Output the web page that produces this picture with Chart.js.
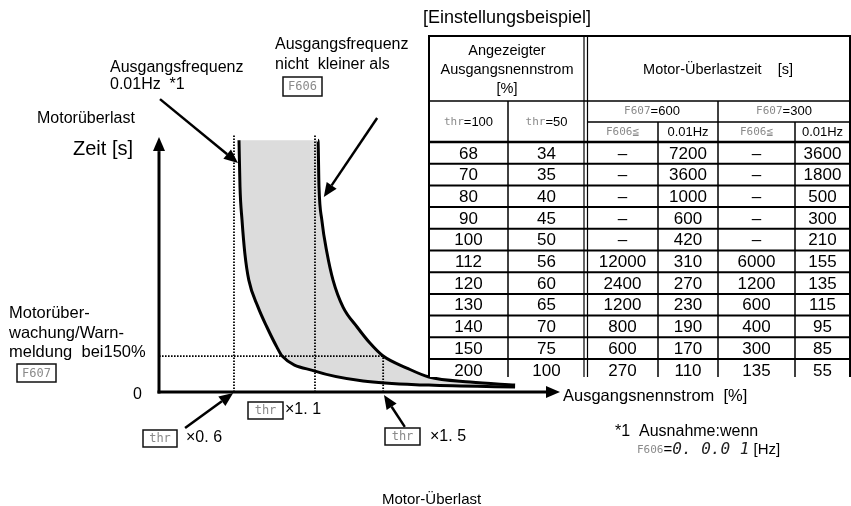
<!DOCTYPE html>
<html><head><meta charset="utf-8">
<script src="https://cdn.jsdelivr.net/npm/chart.js@4.4.1/dist/chart.umd.min.js"></script>
<style>html,body{margin:0;padding:0;background:#fff;overflow:hidden}canvas{display:block}</style>
</head><body>
<canvas id="c" width="851" height="506"></canvas>
<script>
// ---- curve data (schematic units; x = output current, y = overload time) ----
const curve001Hz_x = [19.95, 20.2, 20.7, 21.4, 22.4, 24.7, 26.9, 29.4, 30.7, 38.9, 50.9, 67.3, 88.8];
const curve001Hz_y = [98.8, 80.4, 67.5, 54.5, 43.9, 33.3, 25.5, 17.6, 14.1, 8.2, 4.3, 2.7, 2.0];
const curveF606_x  = [39.65, 39.9, 40.6, 41.9, 43.4, 45.9, 49.4, 52.6, 55.9, 61.8, 67.3, 77.6, 88.8];
const curveF606_y  = [98.8, 80.4, 67.5, 54.5, 43.9, 33.3, 25.5, 19.2, 14.1, 9.4, 5.9, 3.9, 2.7];
const markX   = [18.7, 38.9, 55.9];          // thr x0.6, x1.1, x1.5
const markTop = [101.2, 101.2, 14.1];
const markLabels = ['×0. 6', '×1. 1', '×1. 5'];
const warnLevel = 14.1;                       // 150 % warning level (F607)

// ---- table data ----
const thr100   = [68, 70, 80, 90, 100, 112, 120, 130, 140, 150, 200];
const thr50    = [34, 35, 40, 45, 50, 56, 60, 65, 70, 75, 100];
const t600F606 = ['–', '–', '–', '–', '–', 12000, 2400, 1200, 800, 600, 270];
const t600Hz   = [7200, 3600, 1000, 600, 420, 310, 270, 230, 190, 170, 110];
const t300F606 = ['–', '–', '–', '–', '–', 6000, 1200, 600, 400, 300, 135];
const t300Hz   = [3600, 1800, 500, 300, 210, 155, 135, 115, 95, 85, 55];

const pts = (xs, ys) => xs.map((x, i) => ({x, y: ys[i]}));
const F = s => `${s}px "Liberation Sans", Arial, sans-serif`;
const LCD = s => `${s}px "DejaVu Sans Mono", monospace`;
const GRAY = '#8a8a8a';

function runs(ctx, parts, x, y, align) {
  let w = 0;
  parts.forEach(p => { ctx.font = p[1]; w += ctx.measureText(p[0]).width; });
  let cx = align === 'center' ? x - w / 2 : x;
  ctx.textAlign = 'left'; ctx.textBaseline = 'middle';
  parts.forEach(p => { ctx.font = p[1]; ctx.fillStyle = p[2] || '#000'; ctx.fillText(p[0], cx, y); cx += ctx.measureText(p[0]).width; });
}
function box(ctx, x1, y1, x2, y2, label) {
  ctx.save();
  ctx.fillStyle = '#fff'; ctx.fillRect(x1, y1, x2 - x1, y2 - y1);
  ctx.strokeStyle = '#111'; ctx.lineWidth = 1.5; ctx.strokeRect(x1, y1, x2 - x1, y2 - y1);
  runs(ctx, [[label, LCD(12), GRAY]], (x1 + x2) / 2, (y1 + y2) / 2 + 0.5, 'center');
  ctx.restore();
}
function arrow(ctx, x1, y1, x2, y2, lw, hl, hw) {
  const a = Math.atan2(y2 - y1, x2 - x1);
  const bx = x2 - hl * Math.cos(a), by = y2 - hl * Math.sin(a);
  ctx.beginPath(); ctx.moveTo(x1, y1); ctx.lineTo(bx, by);
  ctx.lineWidth = lw; ctx.strokeStyle = '#000'; ctx.stroke();
  ctx.beginPath(); ctx.moveTo(x2, y2);
  ctx.lineTo(bx + hw * Math.sin(a), by - hw * Math.cos(a));
  ctx.lineTo(bx - hw * Math.sin(a), by + hw * Math.cos(a));
  ctx.closePath(); ctx.fillStyle = '#000'; ctx.fill();
}
const pointerArrows = [[0.25, 114.9, 19.7, 89.8], [54.4, 107.5, 41.1, 76.5], [6.5, -14.1, 18.5, -0.4], [61.3, -13.7, 56.1, -1.2]];

const deco = {
  id: 'deco',
  afterDatasetsDraw(chart) {
    const {ctx, scales: {x, y}} = chart;
    const x0 = x.getPixelForValue(0), y0 = y.getPixelForValue(0);
    const xe = x.getPixelForValue(100), ye = y.getPixelForValue(100);
    ctx.save();
    arrow(ctx, x0 - 1.5, y0, xe, y0, 3, 14, 6);
    arrow(ctx, x0, y0 + 1.5, x0, ye, 3, 14, 6);
    ctx.restore();
  },
  afterDraw(chart) {
    const {ctx, scales: {x, y}} = chart;
    ctx.save();
    // ---------- table ----------
    const L = 429, R = 850, TOP = 36, BOT = 377;
    const cols = [429, 508, 585.5, 658, 718, 795, 850];
    const h1 = 101, h2 = 122, h3 = 142, rh = 21.7;
    ctx.fillStyle = '#fff'; ctx.fillRect(L, TOP, R - L + 1, BOT - TOP);
    runs(ctx, [['[Einstellungsbeispiel]', F(18)]], 423, 18, 'left');
    runs(ctx, [['Angezeigter', F(14.5)]], 507, 51, 'center');
    runs(ctx, [['Ausgangsnennstrom', F(14.5)]], 507, 70, 'center');
    runs(ctx, [['[%]', F(14.5)]], 507, 89, 'center');
    runs(ctx, [['Motor-Überlastzeit    [s]', F(14.5)]], 718, 70, 'center');
    runs(ctx, [['thr', LCD(11), GRAY], ['=100', F(13)]], 468.5, 122, 'center');
    runs(ctx, [['thr', LCD(11), GRAY], ['=50', F(13)]], 546.5, 122, 'center');
    runs(ctx, [['F607', LCD(11), GRAY], ['=600', F(13)]], 652, 111.5, 'center');
    runs(ctx, [['F607', LCD(11), GRAY], ['=300', F(13)]], 784, 111.5, 'center');
    runs(ctx, [['F606≦', LCD(11), GRAY]], 622.5, 132, 'center');
    runs(ctx, [['0.01Hz', F(13)]], 688, 132, 'center');
    runs(ctx, [['F606≦', LCD(11), GRAY]], 756.5, 132, 'center');
    runs(ctx, [['0.01Hz', F(13)]], 822.5, 132, 'center');
    ctx.save();
    ctx.beginPath(); ctx.rect(L, TOP, R - L, BOT - 1 - TOP); ctx.clip();
    const colsData = [thr100, thr50, t600F606, t600Hz, t300F606, t300Hz];
    const centers = [468.5, 546.5, 622.5, 688, 756.5, 822.5];
    colsData.forEach((arr, c) => arr.forEach((v, r) => {
      runs(ctx, [[String(v), F(17)]], centers[c], h3 + rh * r + rh / 2 + 1, 'center');
    }));
    ctx.restore();
    ctx.strokeStyle = '#000';
    const hl = (yy, xa, xb, w) => { ctx.lineWidth = w; ctx.beginPath(); ctx.moveTo(xa, yy); ctx.lineTo(xb, yy); ctx.stroke(); };
    const vl = (xx, ya, yb, w) => { ctx.lineWidth = w; ctx.beginPath(); ctx.moveTo(xx, ya); ctx.lineTo(xx, yb); ctx.stroke(); };
    hl(TOP, L - 1, R + 1, 2);
    hl(h1, L, R, 1.5);
    hl(h2, 587, R, 1.5);
    hl(h3, L, R, 2.5);
    for (let k = 1; k <= 10; k++) hl(h3 + rh * k, L, R, 2);
    vl(L, TOP, BOT, 2); vl(R, TOP, BOT, 2);
    vl(508, h1, BOT, 1.5);
    vl(584, TOP, BOT, 1.2); vl(587.5, TOP, BOT, 1.2);
    vl(658, h2, BOT, 1.5); vl(718, h1, BOT, 1.5); vl(795, h2, BOT, 1.5);

    // ---------- annotations ----------
    runs(ctx, [['Ausgangsfrequenz', F(16)]], 110, 68, 'left');
    runs(ctx, [['0.01Hz  *1', F(16)]], 110, 85, 'left');
    runs(ctx, [['Ausgangsfrequenz', F(16)]], 275, 45, 'left');
    runs(ctx, [['nicht  kleiner als', F(16)]], 275, 65, 'left');
    box(ctx, 283, 77, 322, 96, 'F606');
    runs(ctx, [['Motorüberlast', F(16)]], 37, 119, 'left');
    runs(ctx, [['Zeit [s]', F(20)]], 73, 149, 'left');
    runs(ctx, [['Motorüber-', F(16.5)]], 9, 313, 'left');
    runs(ctx, [['wachung/Warn-', F(16.5)]], 9, 333, 'left');
    runs(ctx, [['meldung  bei150%', F(16.5)]], 9, 352, 'left');
    box(ctx, 17, 364, 56, 382, 'F607');
    runs(ctx, [['0', F(16)]], 133, 395, 'left');
    box(ctx, 248, 402, 283, 419, 'thr');
    runs(ctx, [[markLabels[1], F(16)]], 285, 410, 'left');
    box(ctx, 143, 430, 177, 447, 'thr');
    runs(ctx, [[markLabels[0], F(16)]], 186, 438, 'left');
    box(ctx, 385, 428, 420, 445, 'thr');
    runs(ctx, [[markLabels[2], F(16)]], 430, 437, 'left');
    runs(ctx, [['Ausgangsnennstrom  [%]', F(16.5)]], 563, 396, 'left');
    runs(ctx, [['*1  Ausnahme:wenn', F(16)]], 615, 432, 'left');
    runs(ctx, [['F606', LCD(11), GRAY], ['=', F(15)], ['0. 0.0 1', 'italic 16px "DejaVu Sans Mono", monospace', '#222'], [' [Hz]', F(15)]], 637, 450, 'left');
    runs(ctx, [['Motor-Überlast', F(15)]], 382, 500, 'left');

    pointerArrows.forEach(a => arrow(ctx, x.getPixelForValue(a[0]), y.getPixelForValue(a[1]),
      x.getPixelForValue(a[2]), y.getPixelForValue(a[3]), 2.5, 14, 6));
    ctx.restore();
  }
};

const dotted = (data) => ({data, showLine: true, borderColor: '#000', borderWidth: 1.8, borderDash: [1.6, 1.4],
  pointRadius: 0, fill: false, order: 1, clip: false, tension: 0});

new Chart(document.getElementById('c'), {
  type: 'scatter',
  data: {
    datasets: [
      {label: '0.01Hz', data: pts(curve001Hz_x, curve001Hz_y), showLine: true, fill: '+1',
       backgroundColor: '#dcdcdc', borderColor: '#000', borderWidth: 3, cubicInterpolationMode: 'monotone',
       pointRadius: 0, order: 3, clip: false},
      {label: 'F606', data: [{x: curve001Hz_x[0], y: curve001Hz_y[0]}].concat(pts(curveF606_x, curveF606_y)),
       showLine: true, fill: false, borderColor: '#000', borderWidth: 3, cubicInterpolationMode: 'monotone',
       segment: {borderColor: c => c.p0DataIndex === 0 ? 'rgba(0,0,0,0)' : '#000'},
       pointRadius: 0, order: 2, clip: false},
      dotted([{x: markX[0], y: 0}, {x: markX[0], y: markTop[0]}]),
      dotted([{x: markX[1], y: 0}, {x: markX[1], y: markTop[1]}]),
      dotted([{x: markX[2], y: 0}, {x: markX[2], y: markTop[2]}]),
      dotted([{x: 0, y: warnLevel}, {x: markX[2], y: warnLevel}])
    ]
  },
  options: {
    responsive: false, animation: false,
    layout: {padding: {left: 159, right: 291, top: 132, bottom: 114}},
    scales: {
      x: {type: 'linear', min: 0, max: 100, display: false},
      y: {type: 'linear', min: 0, max: 102, display: false}
    },
    plugins: {legend: {display: false}, tooltip: {enabled: false}}
  },
  plugins: [deco]
});
</script>
</body></html>
